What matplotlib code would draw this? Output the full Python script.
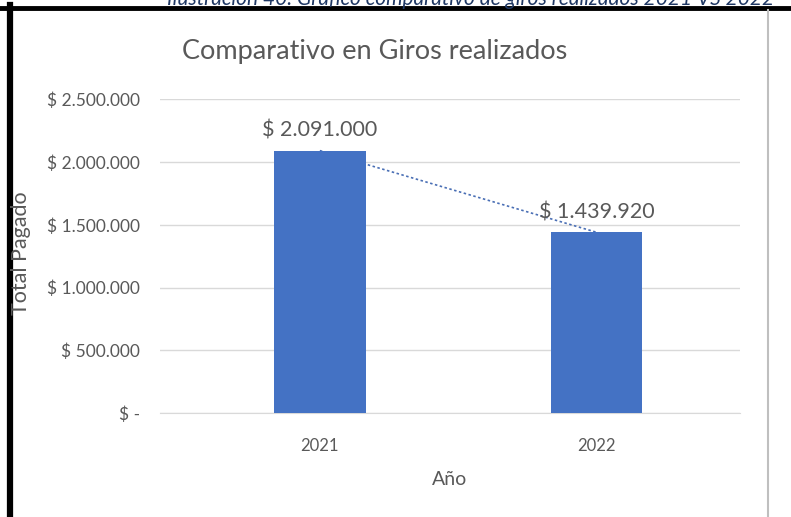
import matplotlib.pyplot as plt
from matplotlib.lines import Line2D
from matplotlib.ticker import FuncFormatter

plt.rcParams['font.family'] = ['Lato', 'DejaVu Sans']

years = ['2021', '2022']
total_pagado = [2091000, 1439920]
y_ticks = [0, 500000, 1000000, 1500000, 2000000, 2500000]

grey = '#595959'
bar_color = '#4472C4'


def pesos(v, pos=None):
    if v == 0:
        return '$ -'
    return '$ ' + f'{int(v):,}'.replace(',', '.')


fig = plt.figure(figsize=(7.91, 5.17), dpi=100)
ax = fig.add_axes([0.202, 0.201, 0.733, 0.607])

x = list(range(len(years)))
ax.bar(x, total_pagado, width=0.33, color=bar_color, zorder=3)
# linear trend through the two points (behind the bars)
ax.plot(x, total_pagado, linestyle=(0, (1.5, 1.5)), color='#4A6FB5', lw=1.2, zorder=2.5)

for xi, v in zip(x, total_pagado):
    ax.text(xi, v + 80000, pesos(v), ha='center', va='bottom', color=grey, fontsize=15.5)

ax.set_xlim(-0.578, 1.516)
ax.set_ylim(0, 2500000)
ax.set_yticks(y_ticks)
ax.yaxis.set_major_formatter(FuncFormatter(pesos))
ax.set_xticks(x)
ax.set_xticklabels(years)
ax.grid(axis='y', color='#D9D9D9', lw=1, zorder=0)
for s in ['top', 'right', 'left']:
    ax.spines[s].set_visible(False)
ax.spines['bottom'].set_color('#D9D9D9')
ax.tick_params(length=0, colors=grey, labelsize=12.5)
ax.tick_params(axis='x', labelsize=12, pad=18)
ax.tick_params(axis='y', pad=14)

ax.set_xlabel('Año', color=grey, fontsize=14, labelpad=12)
fig.text(0.026, 0.51, 'Total Pagado', rotation=90, ha='center', va='center',
         color=grey, fontsize=15.5)
fig.text(0.473, 0.9, 'Comparativo en Giros realizados', ha='center', va='center',
         color=grey, fontsize=19.5)

# caption cut off at the top of the image
fig.text(0.595, 0.9905, 'Ilustración 40. Gráfico comparativo de giros realizados 2021 VS 2022',
         ha='center', va='baseline', color='#1F3864', fontsize=15, style='italic')

# black frame (top and left) and grey right edge
fig.add_artist(Line2D([0, 1], [0.985, 0.985], color='black', lw=3.5, transform=fig.transFigure))
fig.add_artist(Line2D([0.0127, 0.0127], [0, 0.99], color='black', lw=4.5, transform=fig.transFigure))
fig.add_artist(Line2D([0.971, 0.971], [0, 0.98], color='#BFBFBF', lw=1.5, transform=fig.transFigure))

fig.savefig('out.png', dpi=100)
